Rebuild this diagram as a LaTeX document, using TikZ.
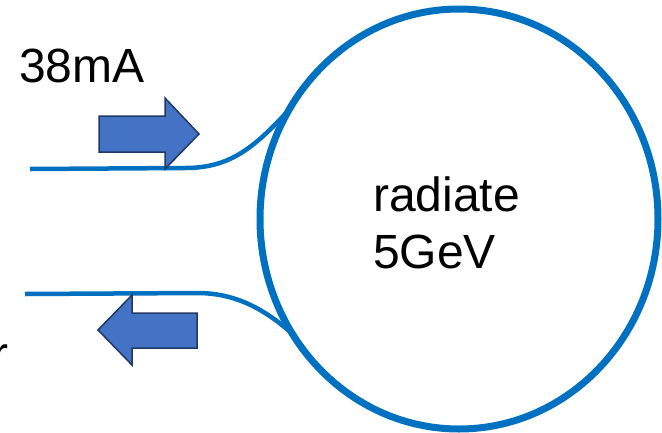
\documentclass[tikz,border=0pt]{standalone}
\usepackage{fontspec}
\setmainfont{Liberation Sans}
\usetikzlibrary{positioning}
\definecolor{ringblue}{RGB}{0,112,192}
\definecolor{arrowfill}{RGB}{68,114,196}
\definecolor{arrowedge}{RGB}{32,56,100}
\tikzset{
    % Ring and beam lines
    ring/.style={draw=ringblue, line width=7pt},
    beam/.style={draw=ringblue, line width=4.5pt},
    % Block arrows
    blockarrow/.style={fill=arrowfill, draw=arrowedge, line width=1.5pt, line join=miter},
    % Labels
    lbl/.style={inner sep=0pt, anchor=base west, font=\fontsize{48}{57}\selectfont},
}
\begin{document}
\begin{tikzpicture}[x=1pt, y=-1pt]
\useasboundingbox (0,0) rectangle (662,432);

\draw[ring] (459,219) ellipse [x radius=199, y radius=210];

\coordinate (inA)  at (30,169);
\coordinate (inB)  at (185,168);
\coordinate (inC)  at (287,112);
\coordinate (outA) at (25,294);
\coordinate (outB) at (200,293);
\coordinate (outC) at (295,336);

\draw[beam] (inA) -- (inB) .. controls (228,168) and (252,150) .. (inC);
\draw[beam] (outA) -- (outB) .. controls (240,294) and (268,312) .. (outC);

\draw[blockarrow] (99,116) -- (165,116) -- (165,98) -- (199,134)
    -- (165,169) -- (165,152) -- (99,152) -- cycle;
\draw[blockarrow] (197,313) -- (132,313) -- (132,295) -- (98,330)
    -- (132,365) -- (132,348) -- (197,348) -- cycle;

\node[lbl] (current) at (19,82)   {38mA};
\node[lbl] (rad)     at (373,211) {radiate};
\node[lbl] (energy)  at (373,268) {5GeV};

% cut-off labels at the left edge
\node[lbl, anchor=base east, text=gray!60] (cutE) at (2,272) {e};
\node[lbl, anchor=base east] (cutR) at (9,370) {r};
\end{tikzpicture}
\end{document}
